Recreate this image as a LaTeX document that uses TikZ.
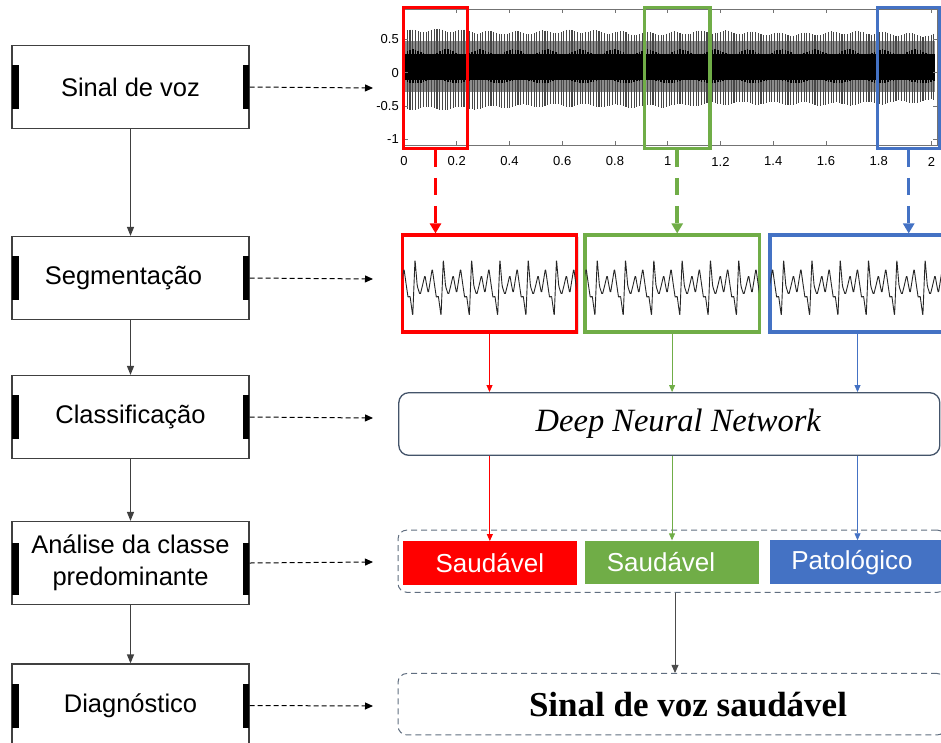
\documentclass[tikz,border=0pt]{standalone}
\usepackage{fontspec}
\setmainfont{Liberation Sans}
\newfontfamily\serifx{Liberation Serif}
\usetikzlibrary{arrows.meta,calc,shadows}
\definecolor{cred}{HTML}{FF0000}
\definecolor{cgreen}{HTML}{70AD47}
\definecolor{cblue}{HTML}{4472C4}
\definecolor{slate}{HTML}{44546A}
\definecolor{boxgray}{HTML}{404040}
\begin{document}
\begin{tikzpicture}[x=1pt,y=-1pt,
  stepbox/.style={draw=boxgray, line width=1.2pt, fill=white, minimum width=237pt, minimum height=83pt, inner sep=0pt, font=\fontsize{25.5}{31.7}\selectfont, align=center},
  flow/.style={draw=boxgray, line width=1.2pt, -{Triangle[length=9pt,width=7pt]}},
  dasharrow/.style={draw=black, line width=1pt, dash pattern=on 5pt off 3pt, -{Triangle[length=8pt,width=7pt]}},
  hibox/.style={draw=#1, line width=3.3pt, minimum height=141pt, inner sep=0pt},
  segbox/.style={draw=#1, line width=3.3pt, fill=white, minimum height=97pt, inner sep=0pt, drop shadow={opacity=0.25, shadow xshift=2pt, shadow yshift=-2pt}},
  bigdash/.style={draw=#1, line width=3.5pt, dash pattern=on 17pt off 11pt, -{Triangle[length=10pt,width=11pt]}},
  thinarrow/.style={draw=#1, line width=0.8pt, -{Triangle[length=7pt,width=6pt]}},
  classbox/.style={fill=#1, text=white, minimum height=43.5pt, inner sep=0pt, font=\fontsize{26}{30}\selectfont},
  grpbox/.style={draw=slate!85, line width=1pt, dash pattern=on 6pt off 4pt, rounded corners=9pt, minimum width=548pt, inner sep=0pt},
  ticklbl/.style={font=\fontsize{13}{15}\selectfont, inner sep=0pt},
  wave/.style={line width=0.9pt, black!85, line join=round, rounded corners=1.6pt}
]
\useasboundingbox (0,0) rectangle (941,742);

% ---------------- left column ----------------
\node[stepbox] (sinal) at (130.5,87) {Sinal de voz};
\node[stepbox] (seg) at (130.5,278) {Segmentação\hspace*{14pt}};
\node[stepbox] (cls) at (130.5,417) {Classificação};
\node[stepbox] (ana) at (130.5,563) {\raisebox{7pt}{\begin{tabular}{@{}c@{}}Análise da classe\\predominante\end{tabular}}};
\node[stepbox] (diag) at (130.5,705.5) {Diagnóstico};

\foreach \n in {sinal,seg,cls,diag} {
  \fill ([shift={(1,-22)}]\n.west) rectangle ++(7,44);
  \fill ([shift={(-7,-22)}]\n.east) rectangle ++(6,44);
}
\fill ([shift={(1,-20)}]ana.west) rectangle ++(7,52);
\fill ([shift={(-7,-20)}]ana.east) rectangle ++(6,52);

\draw[flow] (sinal.south) -- (seg.north);
\draw[flow] (seg.south) -- (cls.north);
\draw[flow] (cls.south) -- (ana.north);
\draw[flow] (ana.south) -- (diag.north);

\coordinate (e1) at (373,88);
\coordinate (e2) at (373,279);
\coordinate (e3) at (373,418);
\coordinate (e4) at (373,562);
\coordinate (e5) at (373,706);
\draw[dasharrow] (sinal.east) -- (e1);
\draw[dasharrow] (seg.east) -- (e2);
\draw[dasharrow] (cls.east) -- (e3);
\draw[dasharrow] (ana.east) -- (e4);
\draw[dasharrow] (diag.east) -- (e5);

% ---------------- signal plot ----------------
\fill[black!45] (404,{72.7-66.6*0.47}) rectangle (935,{72.7+66.6*0.29});
\foreach \i in {0,...,196} {
  \pgfmathsetmacro\xx{404.6+2.7*\i}
  \pgfmathsetmacro\yt{72.7-66.6*(0.62-0.04*\i/196+0.025*sin(\i*37)+0.015*sin(\i*7))}
  \pgfmathsetmacro\yb{72.7+66.6*(0.53-0.09*\i/196+0.025*sin(\i*31)+0.015*sin(\i*5))}
  \draw[line width=1.1pt, black!72] (\xx,\yt) -- (\xx,\yb);
}
\foreach \i in {0,...,196} {
  \pgfmathsetmacro\xx{404.6+2.7*\i}
  \pgfmathsetmacro\ym{72.7-66.6*(0.31+0.04*sin(\i*29))}
  \pgfmathsetmacro\yn{72.7+66.6*(0.13+0.03*sin(\i*23))}
  \draw[line width=1.6pt, black] (\xx,\ym) -- (\xx,\yn);
}
\fill[black] (404,{72.7-66.6*0.28}) rectangle (935,{72.7+66.6*0.11});

\draw[black!55, line width=0.6pt] (404,9.3) rectangle (937,145);
\foreach \v/\l [count=\k] in {0/0,0.2/0.2,0.4/0.4,0.6/0.6,0.8/0.8,1/1,1.2/1.2,1.4/1.4,1.6/1.6,1.8/1.8,2/2} {
  \draw[black!55, line width=0.6pt] ({404+263.75*\v},145) -- ++(0,-4);
  \draw[black!55, line width=0.6pt] ({404+263.75*\v},9.3) -- ++(0,4);
  \node[ticklbl] (xt\k) at ({404+263.75*\v},161.5) {\l};
}
\foreach \y/\l [count=\k] in {39.3/0.5,72.7/0,106/-0.5,139.3/-1} {
  \draw[black!55, line width=0.6pt] (404,\y) -- ++(4,0);
  \draw[black!55, line width=0.6pt] (937,\y) -- ++(-4,0);
  \node[ticklbl, anchor=east] (yt\k) at (399,\y) {\l};
}

\node[hibox=cred, minimum width=63.7pt] (hr) at (435.5,77.8) {};
\node[hibox=cgreen, minimum width=65.6pt] (hg) at (677.2,77.8) {};
\node[hibox=cblue, minimum width=61.8pt] (hb) at (908.7,77.8) {};

% ---------------- segments ----------------
\node[segbox=cred, minimum width=174.6pt] (s1) at (489.5,283.6) {};
\node[segbox=cgreen, minimum width=174.2pt] (s2) at (672.1,283.6) {};
\node[segbox=cblue, minimum width=175pt] (s3) at (857.5,283.6) {};

\begin{scope}
\clip ([shift={(2,2)}]s1.north west) rectangle ([shift={(-2,-2)}]s1.south east);
\draw[wave] (380,287) \foreach \k in {-1,...,6} { \foreach \f/\v in {0/1,0.08/0.05,0.18/-0.26,0.27/0.1,0.35/0.45,0.41/0.1,0.47/-0.2,0.54/0.25,0.61/0.68,0.69/0.1,0.76/-0.38,0.82/-0.26,0.92/-1.0,0.96/0.0} { -- ({415+28.3*(\k+\f)},{287.7-28.3*\v}) } };
\end{scope}
\begin{scope}
\clip ([shift={(2,2)}]s2.north west) rectangle ([shift={(-2,-2)}]s2.south east);
\draw[wave] (560,287) \foreach \k in {-1,...,6} { \foreach \f/\v in {0/1,0.08/0.05,0.18/-0.26,0.27/0.1,0.35/0.45,0.41/0.1,0.47/-0.2,0.54/0.25,0.61/0.68,0.69/0.1,0.76/-0.38,0.82/-0.26,0.92/-1.0,0.96/0.0} { -- ({597.2+28.3*(\k+\f)},{287.7-28.3*\v}) } };
\end{scope}
\begin{scope}
\clip ([shift={(2,2)}]s3.north west) rectangle ([shift={(-2,-2)}]s3.south east);
\draw[wave] (745,287) \foreach \k in {-1,...,6} { \foreach \f/\v in {0/1,0.08/0.05,0.18/-0.26,0.27/0.1,0.35/0.45,0.41/0.1,0.47/-0.2,0.54/0.25,0.61/0.68,0.69/0.1,0.76/-0.38,0.82/-0.26,0.92/-1.0,0.96/0.0} { -- ({783.6+28.3*(\k+\f)},{287.7-28.3*\v}) } };
\end{scope}

\draw[bigdash=cred] (hr.south) -- (hr.south |- s1.north);
\draw[bigdash=cgreen] (hg.south) -- (hg.south |- s2.north);
\draw[bigdash=cblue] (hb.south) -- (hb.south |- s3.north);

% ---------------- DNN ----------------
\node[draw=slate, line width=1.3pt, rounded corners=10pt, minimum width=541pt, minimum height=62.6pt, inner sep=0pt, font=\serifx\itshape\fontsize{32.5}{37}\selectfont] (dnn) at (669.3,424) {\hspace*{18pt}Deep Neural Network};

\draw[thinarrow=cred] (s1.south) -- (s1.south |- dnn.north);
\draw[thinarrow=cgreen] (s2.south) -- (s2.south |- dnn.north);
\draw[thinarrow=cblue] (s3.south) -- (s3.south |- dnn.north);

% ---------------- classes ----------------
\node[grpbox, minimum height=62.3pt] (grp) at (672,561.2) {};
\node[classbox=cred, minimum width=173.9pt] (c1) at (489.85,563) {Saudável};
\node[classbox=cgreen, minimum width=173.1pt] (c2) at (672,562.3) {Saudável\hspace*{22pt}};
\node[classbox=cblue, minimum width=175pt] (c3) at (857.5,562.2) {Patológico\hspace*{11pt}};

\draw[thinarrow=cred] (dnn.south -| c1.north) -- (c1.north);
\draw[thinarrow=cgreen] (dnn.south -| c2.north) -- (c2.north);
\draw[thinarrow=cblue] (dnn.south -| c3.north) -- (c3.north);

% ---------------- final ----------------
\node[grpbox, minimum height=61.5pt, font=\serifx\bfseries\fontsize{35}{40}\selectfont] (fin) at (672,704.2) {\hspace*{32pt}Sinal de voz saudável};
\draw[draw=black!70, line width=0.8pt, -{Triangle[length=8pt,width=7pt]}] ([xshift=3pt]grp.south) -- ([xshift=3pt]fin.north);
\end{tikzpicture}
\end{document}
